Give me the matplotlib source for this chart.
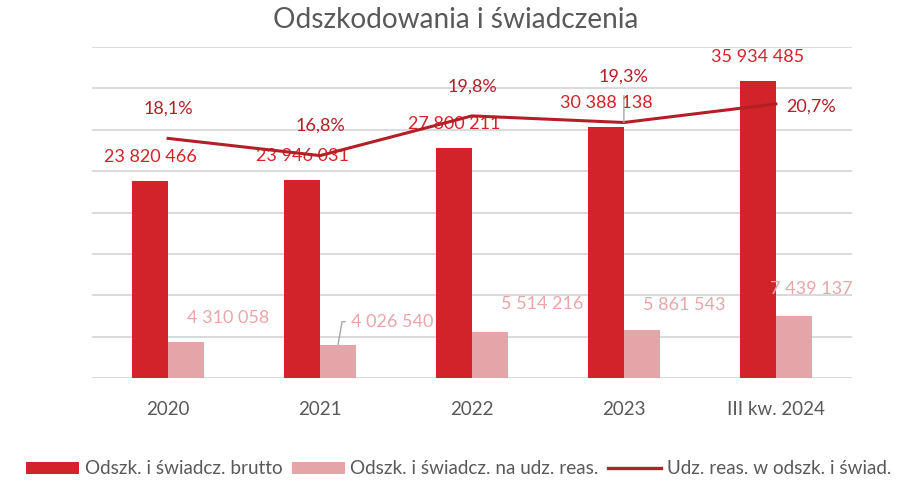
import matplotlib
matplotlib.use("Agg")
import matplotlib.pyplot as plt
from matplotlib.patches import Patch
from matplotlib.lines import Line2D
from matplotlib import rcParams

rcParams["font.family"] = ["Lato", "DejaVu Sans"]

categories = ["2020", "2021", "2022", "2023", "III kw. 2024"]
brutto = [23820466, 23946031, 27800211, 30388138, 35934485]
reas = [4310058, 4026540, 5514216, 5861543, 7439137]
share = [18.1, 16.8, 19.8, 19.3, 20.7]

RED = "#D2232A"
PINK = "#E3A5A7"
LINE = "#B41F27"
GRID = "#D9D9D9"
GRAY = "#595959"


def fmt_num(v):
    return f"{v:,}".replace(",", " ")


def fmt_pct(v):
    return f"{v:.1f}%".replace(".", ",")


fig = plt.figure(figsize=(9.12, 4.8), dpi=100)
ax = fig.add_axes([0.101, 0.2125, 0.833, 0.6895])
ax2 = ax.twinx()

x = list(range(len(categories)))
w = 0.237
xr = [i - w / 2 for i in x]
xp = [i + w / 2 for i in x]

ax.bar(xr, brutto, width=w, color=RED, zorder=2)
ax.bar(xp, reas, width=w, color=PINK, zorder=2)

ax.set_ylim(0, 40e6)
ax.set_xlim(-0.5, len(categories) - 0.5)
ax.set_yticks([i * 5e6 for i in range(9)])
ax.yaxis.grid(True, color=GRID, linewidth=1.4, zorder=0)
ax.set_axisbelow(True)
ax.tick_params(axis="y", left=False, labelleft=False)
ax.tick_params(axis="x", bottom=False, labelsize=13.5, labelcolor=GRAY, pad=13)
ax.set_xticks(x)
ax.set_xticklabels(categories)
for s in ax.spines.values():
    s.set_visible(False)

ax2.plot(x, share, color=LINE, linewidth=2.2, zorder=3)
ax2.set_ylim(0, 25)
ax2.set_yticks([])
for s in ax2.spines.values():
    s.set_visible(False)

# labels for brutto bars
for xi, v in zip(xr, brutto):
    ax.annotate(fmt_num(v), (xi, v), xytext=(0, 24), textcoords="offset pixels",
                ha="center", va="center", fontsize=13, color=RED, zorder=5)

# labels for reas bars (moved by hand in the original)
reas_off = [(42, 24), (54, 23), (52, 28), (42, 25), (17, 27)]
for i, (xi, v) in enumerate(zip(xp, reas)):
    dx, dy = reas_off[i]
    if i == 1:
        ax.annotate(fmt_num(v), (xi, v), xytext=(dx, dy), textcoords="offset pixels",
                    ha="center", va="center", fontsize=13, color="#E8A6A8",
                    arrowprops=dict(arrowstyle="-", color="#A6A6A6", lw=1,
                                    shrinkA=2, shrinkB=0, relpos=(0, 0.5),
                                    connectionstyle="angle,angleA=0,angleB=80,rad=0"))
    else:
        ax.annotate(fmt_num(v), (xi, v), xytext=(dx, dy), textcoords="offset pixels",
                    ha="center", va="center", fontsize=13, color="#E8A6A8")

# labels for the share line
pct_off = [(0, 30), (0, 30), (0, 29), (0, 46), (10, -3)]
for i, (xi, v) in enumerate(zip(x, share)):
    dx, dy = pct_off[i]
    ha = "left" if i == len(x) - 1 else "center"
    if i == 3:
        ax2.annotate(fmt_pct(v), (xi, v), xytext=(dx, dy), textcoords="offset pixels",
                     ha=ha, va="center", fontsize=13, color=LINE,
                     arrowprops=dict(arrowstyle="-", color="#A6A6A6", lw=1,
                                     shrinkA=6, shrinkB=0))
    else:
        ax2.annotate(fmt_pct(v), (xi, v), xytext=(dx, dy), textcoords="offset pixels",
                     ha=ha, va="center", fontsize=13, color=LINE)

fig.text(0.5, 0.958, "Odszkodowania i świadczenia", ha="center", va="center",
         fontsize=20.2, color=GRAY)

handles = [
    Patch(facecolor=RED, edgecolor="none"),
    Patch(facecolor=PINK, edgecolor="none"),
    Line2D([0], [0], color=LINE, linewidth=2.4),
]
labels = [
    "Odszk. i świadcz. brutto",
    "Odszk. i świadcz. na udz. reas.",
    "Udz. reas. w odszk. i świad.",
]
fig.legend(handles, labels, loc="center", bbox_to_anchor=(0.503, 0.023), ncol=3,
           frameon=False, fontsize=13.6, labelcolor=GRAY, handlelength=2.8,
           handleheight=0.6, handletextpad=0.3, columnspacing=0.5,
           borderpad=0, borderaxespad=0)

fig.savefig("out.png", dpi=100)
